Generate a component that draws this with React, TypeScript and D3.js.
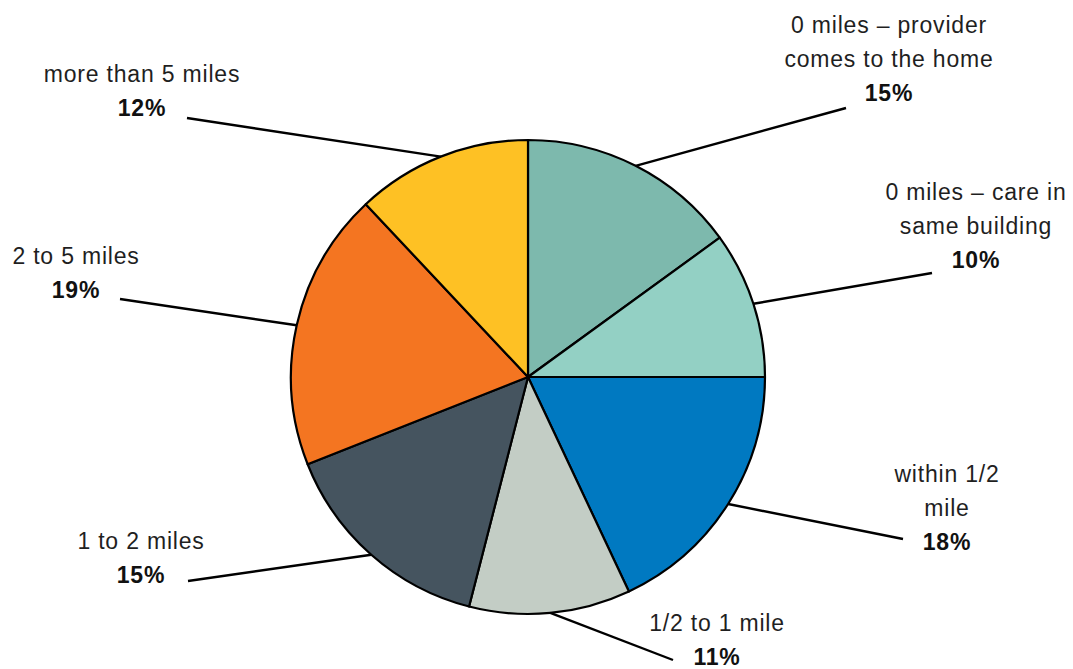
import React from "react";
import * as d3 from "d3";

// Distance to child care, share of respondents
const categories: string[][] = [
  ["0 miles – provider", "comes to the home"],
  ["0 miles – care in", "same building"],
  ["within 1/2", "mile"],
  ["1/2 to 1 mile"],
  ["1 to 2 miles"],
  ["2 to 5 miles"],
  ["more than 5 miles"],
];
const shares: number[] = [15, 10, 18, 11, 15, 19, 12];
const colors: string[] = ["#7db9ad", "#93d0c4", "#0079c1", "#c3cdc5", "#45545f", "#f47521", "#fec124"];

// Label placement: text centre x, first baseline y, and leader line end
const labelPos: { x: number; y: number; lx: number; ly: number }[] = [
  { x: 889, y: 33, lx: 846, ly: 108 },
  { x: 976, y: 200, lx: 932, ly: 273 },
  { x: 947, y: 482, lx: 903, ly: 539 },
  { x: 717, y: 631, lx: 673, ly: 660 },
  { x: 141, y: 549, lx: 188, ly: 581 },
  { x: 76, y: 264, lx: 120, ly: 299 },
  { x: 142, y: 82, lx: 187, ly: 118 },
];

const W = 1073;
const H = 669;
const cx = 528;
const cy = 377;
const R = 237;
const lineH = 34;
const font = "'Liberation Sans', Arial, sans-serif";

export default function App() {
  const pie = d3
    .pie<number>()
    .sort(null)
    .startAngle(0)
    .endAngle(2 * Math.PI)
    .value((d) => d);
  const arcs = pie(shares);
  const arc = d3.arc<d3.PieArcDatum<number>>().innerRadius(0).outerRadius(R);
  const edge = d3.arc<d3.PieArcDatum<number>>().innerRadius(R).outerRadius(R);

  return (
    <svg
      width={W}
      height={H}
      style={{ position: "absolute", left: 0, top: 0, background: "#fff" }}
    >
      <g transform={`translate(${cx},${cy})`}>
        {arcs.map((a, i) => (
          <path key={i} d={arc(a) ?? ""} fill={colors[i]} stroke="#000" strokeWidth={2.2} strokeLinejoin="round" />
        ))}
      </g>
      {arcs.map((a, i) => {
        const [sx, sy] = edge.centroid(a);
        const p = labelPos[i];
        return (
          <line key={`l${i}`} x1={cx + sx} y1={cy + sy} x2={p.lx} y2={p.ly} stroke="#000" strokeWidth={2.4} />
        );
      })}
      {categories.map((lines, i) => {
        const p = labelPos[i];
        return (
          <text key={`t${i}`} x={p.x} y={p.y} textAnchor="middle" fontFamily={font} fontSize={23} fill="#1f1f1f" letterSpacing={0.8}>
            {lines.map((ln, j) => (
              <tspan key={j} x={p.x} y={p.y + j * lineH}>
                {ln}
              </tspan>
            ))}
            <tspan x={p.x} y={p.y + lines.length * lineH} fontWeight="bold" fill="#111">
              {`${shares[i]}%`}
            </tspan>
          </text>
        );
      })}
    </svg>
  );
}
